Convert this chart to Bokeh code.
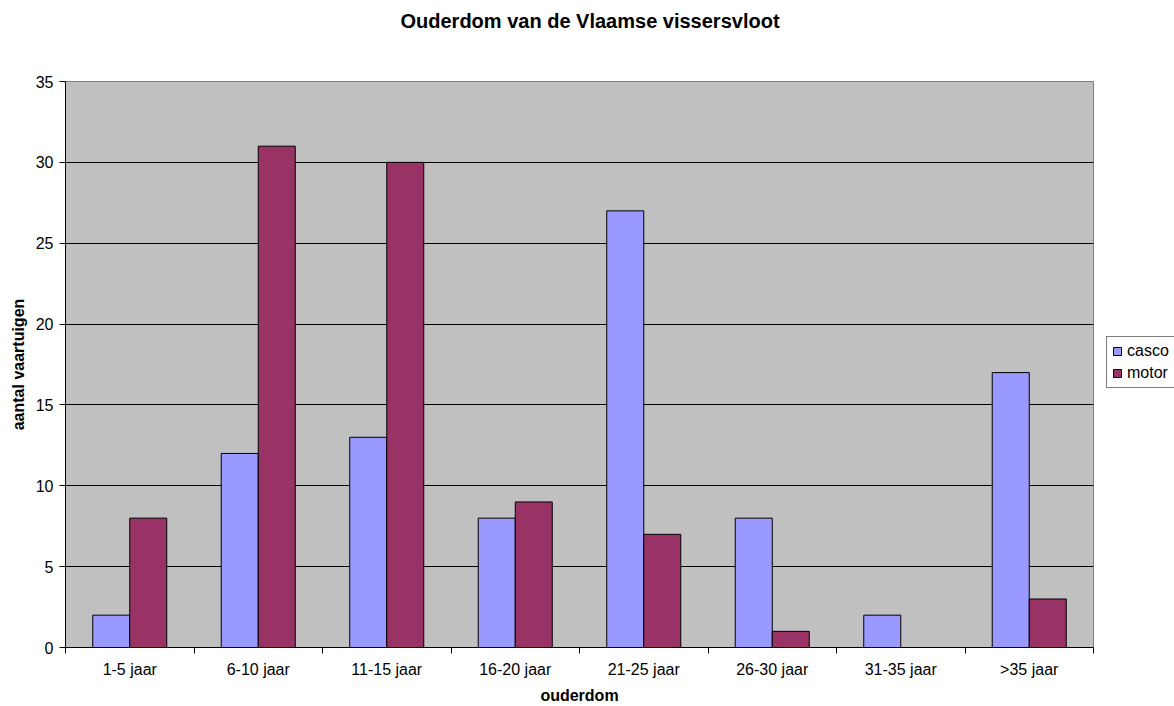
from bokeh.plotting import figure
from bokeh.models import (Range1d, FixedTicker, Legend, LegendItem, ColumnDataSource, Title)
from bokeh.embed import file_html
from bokeh.resources import INLINE

categories = ["1-5 jaar", "6-10 jaar", "11-15 jaar", "16-20 jaar", "21-25 jaar", "26-30 jaar", "31-35 jaar", ">35 jaar"]
casco = [2, 12, 13, 8, 27, 8, 2, 17]
motor = [8, 31, 30, 9, 7, 1, 0, 3]
y_ticks = [0, 5, 10, 15, 20, 25, 30, 35]

FONT = "Liberation Sans"
BW = 0.288
n = len(categories)
centers = [i + 0.5 for i in range(n)]

src = ColumnDataSource(dict(
    xc=[c - BW / 2 for c in centers],
    xm=[c + BW / 2 for c in centers],
    casco=casco, motor=motor,
))

p = figure(frame_width=1028, frame_height=566, output_backend="svg", toolbar_location=None,
           x_range=Range1d(0, n), y_range=Range1d(0, 35),
           min_border_left=65, min_border_right=81, min_border_top=81, min_border_bottom=59)
p.background_fill_color = "#C0C0C0"
p.border_fill_color = "white"
p.outline_line_color = "#808080"
p.outline_line_width = 1

# real title (outer), then a blank spacer title next to the frame
p.title = Title(text="Ouderdom van de Vlaamse vissersvloot", align="left",
                vertical_align="top", standoff=10, offset=335,
                text_font=FONT, text_font_size="20px", text_font_style="bold",
                text_color="black")
p.add_layout(Title(text=" ", text_font=FONT, text_font_size="20px", standoff=19), "above")

rc = p.vbar(x="xc", top="casco", width=BW, bottom=0, source=src,
            fill_color="#9999FF", line_color="black", line_width=1)
rm = p.vbar(x="xm", top="motor", width=BW, bottom=0, source=src,
            fill_color="#993366", line_color="black", line_width=1)

# x axis
p.xaxis.ticker = FixedTicker(ticks=centers, minor_ticks=list(range(n + 1)))
p.xaxis.major_label_overrides = {c: lab for c, lab in zip(centers, categories)}
p.xaxis.major_tick_line_alpha = 0
p.xaxis.major_tick_out = 6
p.xaxis.minor_tick_out = 6
p.xaxis.minor_tick_in = 0
p.xaxis.minor_tick_line_color = "black"
p.xaxis.axis_line_color = "black"
p.xaxis.major_label_text_font = FONT
p.xaxis.major_label_text_font_size = "16px"
p.xaxis.major_label_text_color = "black"
p.xaxis.major_label_standoff = 7
p.xaxis.axis_label = "ouderdom"
p.xaxis.axis_label_text_font = FONT
p.xaxis.axis_label_text_font_size = "16px"
p.xaxis.axis_label_text_font_style = "bold"
p.xaxis.axis_label_text_color = "black"
p.xaxis.axis_label_standoff = 6

# y axis
p.yaxis.ticker = FixedTicker(ticks=y_ticks, minor_ticks=[])
p.yaxis.major_tick_out = 6
p.yaxis.major_tick_in = 0
p.yaxis.major_tick_line_color = "black"
p.yaxis.axis_line_color = "black"
p.yaxis.major_label_text_font = FONT
p.yaxis.major_label_text_font_size = "16px"
p.yaxis.major_label_text_color = "black"
p.yaxis.major_label_standoff = 6
p.yaxis.axis_label = "aantal vaartuigen"
p.yaxis.axis_label_text_font = FONT
p.yaxis.axis_label_text_font_size = "16px"
p.yaxis.axis_label_text_font_style = "bold"
p.yaxis.axis_label_text_color = "black"
p.yaxis.axis_label_standoff = 6

p.xgrid.grid_line_color = None
p.ygrid.ticker = FixedTicker(ticks=y_ticks[1:-1])
p.ygrid.grid_line_color = "black"
p.ygrid.grid_line_width = 1

legend = Legend(items=[LegendItem(label="casco", renderers=[rc]),
                       LegendItem(label="motor", renderers=[rm])],
                location=(13, 259), orientation="vertical",
                glyph_width=10, glyph_height=10, label_standoff=5,
                label_text_font=FONT, label_text_font_size="16px", label_text_color="black",
                label_height=18, label_width=38, spacing=4, padding=5, margin=0,
                border_line_color="black", border_line_width=1,
                background_fill_color="white", background_fill_alpha=1)
p.add_layout(legend, "right")

open("out.html", "w").write(file_html(p, INLINE))
